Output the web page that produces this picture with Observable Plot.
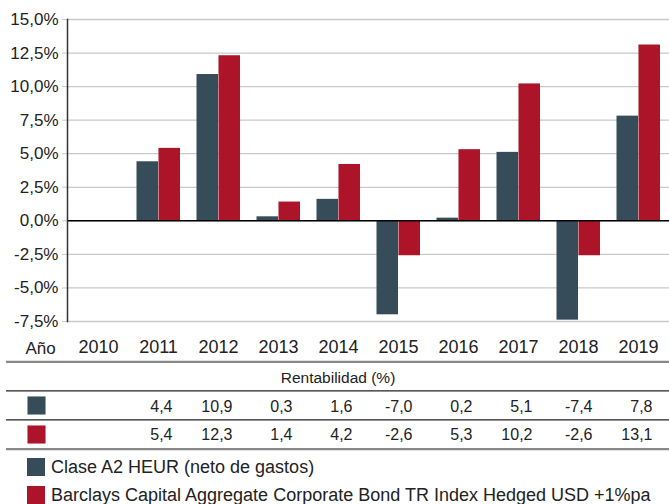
<!DOCTYPE html>
<html>
<head>
<meta charset="utf-8">
<script src="https://cdn.jsdelivr.net/npm/d3@7"></script>
<script src="https://cdn.jsdelivr.net/npm/@observablehq/plot@0.6"></script>
<style>
  html, body { margin: 0; padding: 0; background: #fff; overflow: hidden; }
  body { width: 669px; height: 504px; font-family: "Liberation Sans", Arial, sans-serif; color: #222; }
  #legend { padding-top: 2px; }
  .legend-item { position: relative; height: 28px; font-size: 18px; line-height: 28px; }
  .legend-item .sw { position: absolute; left: 27px; top: 5px; width: 18px; height: 18px; }
  .legend-item .lb { position: absolute; left: 51px; top: 0; white-space: nowrap; }
</style>
</head>
<body>
<div id="chart"></div>
<div id="table"></div>
<div id="legend"></div>
<script>
const years = ["2010", "2011", "2012", "2013", "2014", "2015", "2016", "2017", "2018", "2019"];
const fundValues = [null, 4.4, 10.9, 0.3, 1.6, -7.0, 0.2, 5.1, -7.4, 7.8];
const benchValues = [null, 5.4, 12.3, 1.4, 4.2, -2.6, 5.3, 10.2, -2.6, 13.1];
const seriesNames = ["Clase A2 HEUR (neto de gastos)", "Barclays Capital Aggregate Corporate Bond TR Index Hedged USD +1%pa"];
const seriesColors = ["#364c58", "#ad1429"];
const yTicks = [-7.5, -5, -2.5, 0, 2.5, 5, 7.5, 10, 12.5, 15];
const tableHeader = "Rentabilidad (%)";
const xLabel = "Año";

const data = years.map((year, i) => ({year, fund: fundValues[i], bench: benchValues[i]}));
const fmt = v => v.toFixed(1).replace(".", ",");

const W = 669, left = 67;
const padInner = 0.27;
const halfBand = (W - left) / years.length * (1 - padInner) / 2;
const font = "'Liberation Sans', Arial, sans-serif";

const chart = Plot.plot({
  width: W, height: 360,
  marginTop: 19, marginBottom: 39, marginLeft: left, marginRight: 0,
  style: {fontFamily: font, fontSize: "17px", color: "#222", background: "#fff"},
  x: {domain: years, paddingInner: padInner, paddingOuter: padInner / 2, axis: null},
  y: {domain: [-7.5, 15], label: null, axis: null},
  marks: [
    Plot.ruleY(yTicks, {stroke: "#c9c9c9", strokeWidth: 1.3}),
    Plot.axisY({ticks: yTicks, tickFormat: d => fmt(d) + "%", tickSize: 5, tickPadding: 4, stroke: "#c9c9c9", fill: "#222", label: null}),
    Plot.axisX({tickSize: 0, tickPadding: 19, fontSize: 18, fill: "#222", label: null}),
    Plot.barY(data, {x: "year", y: "fund", fill: seriesColors[0], insetLeft: 0.5, insetRight: halfBand}),
    Plot.barY(data, {x: "year", y: "bench", fill: seriesColors[1], insetLeft: halfBand + 0.5, insetRight: 0}),
    Plot.ruleY([0], {stroke: "#000", strokeWidth: 1.5}),
    Plot.frame({anchor: "left", stroke: "#333", strokeWidth: 1.5}),
    Plot.text([xLabel], {frameAnchor: "bottom-left", textAnchor: "middle", dx: -27, dy: 32, text: d => d, fill: "#222", fontSize: 17})
  ]
});
document.getElementById("chart").appendChild(chart);

const rowKeys = ["header", "fund", "bench"];
const tableRows = data.filter(d => d.fund != null);
const table = Plot.plot({
  width: W, height: 91,
  marginTop: 0, marginBottom: 0, marginLeft: 6, marginRight: 0,
  style: {fontFamily: font, fontSize: "16px", color: "#222", background: "#fff"},
  x: {domain: years, range: [left, W], paddingInner: padInner, paddingOuter: padInner / 2, axis: null},
  y: {type: "point", domain: rowKeys, range: [1, 89], padding: 0.5, axis: null},
  marks: [
    Plot.ruleY(["header"], {dy: -14.7, stroke: "#888", strokeWidth: 2.2}),
    Plot.ruleY(["fund", "bench"], {dy: -14.7, stroke: "#222", strokeWidth: 1.2}),
    Plot.ruleY(["bench"], {dy: 14.7, stroke: "#888", strokeWidth: 2.2}),
    Plot.text([tableHeader], {y: () => "header", text: d => d, frameAnchor: "middle", dy: 2, fontSize: 15.5, fill: "#222"}),
    Plot.dot(["fund", "bench"], {y: d => d, frameAnchor: "left", dx: 30, symbol: "square", r: 10.2, fill: (d, i) => seriesColors[i], stroke: "none"}),
    Plot.text(tableRows, {x: "year", y: () => "fund", text: d => fmt(d.fund), dx: 14, dy: 1, textAnchor: "end", fill: "#222"}),
    Plot.text(tableRows, {x: "year", y: () => "bench", text: d => fmt(d.bench), dx: 14, dy: 0, textAnchor: "end", fill: "#222"})
  ]
});
document.getElementById("table").appendChild(table);

const legend = document.getElementById("legend");
seriesNames.forEach((name, i) => {
  const item = document.createElement("div");
  item.className = "legend-item";
  const sw = document.createElement("span");
  sw.className = "sw";
  sw.style.background = seriesColors[i];
  const lb = document.createElement("span");
  lb.className = "lb";
  lb.textContent = name;
  item.appendChild(sw);
  item.appendChild(lb);
  legend.appendChild(item);
});
</script>
</body>
</html>
